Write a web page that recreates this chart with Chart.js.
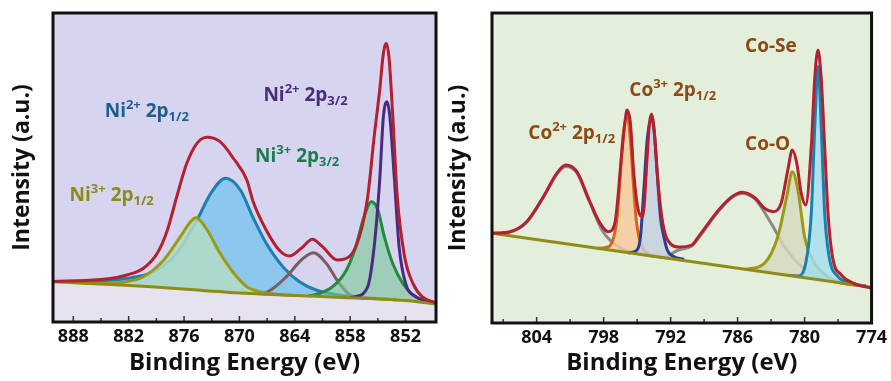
<!DOCTYPE html>
<html>
<head>
<meta charset="utf-8">
<script src="https://cdn.jsdelivr.net/npm/chart.js@4.4.0/dist/chart.umd.min.js"></script>
<style>
  html, body { margin: 0; padding: 0; background: #fff; }
  #wrap { position: relative; width: 891px; height: 381px; }
  .panel { position: absolute; top: 0; height: 381px; }
</style>
</head>
<body>
<div id="wrap">
  <div class="panel" style="left:0;width:445px"><canvas id="ni" width="445" height="381"></canvas></div>
  <div class="panel" style="left:445px;width:446px"><canvas id="co" width="446" height="381"></canvas></div>
</div>
<script>
// ---- Ni 2p (left panel) ----
const niTicks = [888, 882, 876, 870, 864, 858, 852];
const niMinor = [885, 879, 873, 867, 861, 855];

const niBaseE = [890.2, 880, 870, 860, 852, 848.7];
const niBaseI = [40.5, 35.5, 29, 25, 21.5, 18];

const niEnvE = [890.2, 884.7, 882.2, 880.4, 878.9, 877.8, 876.8, 875.7, 874.6, 873.5, 872.1, 870.6, 869.2, 868.5, 867.1, 865.7, 864.6, 863.3, 862.1, 861.0, 859.4, 858.1, 857.0, 856.1, 855.4, 854.8, 854.4, 854.1, 853.8, 853.4, 852.9, 852.1, 851.2, 850.2, 848.7];
const niEnvI = [40.5, 42.7, 47, 53.7, 68.7, 92, 125, 158.7, 178.7, 184.7, 180.3, 163, 142, 120, 92, 72, 66, 73.7, 82.7, 75.3, 62, 65.3, 85.3, 125.3, 185.3, 232, 268.7, 278.7, 265.3, 208.7, 125.3, 65.3, 38.7, 25.3, 19];

const ni2p12E = [890.2, 884.7, 881.1, 879.3, 876.8, 874.6, 873.1, 871.5, 869.9, 868.5, 867.1, 865.3, 863.5, 861.7, 859.2, 856, 853];
const ni2p12I = [40.5, 41.5, 45.3, 50.3, 68.7, 102, 128.7, 143.7, 132, 104, 78.7, 55.3, 40.3, 32, 27, 24, 22.3];

const ni3p12E = [890.2, 885, 882.9, 880.4, 878.2, 876.4, 875.3, 874.7, 873.5, 872.1, 870.6, 869.2, 867.8, 866, 864];
const ni3p12I = [40.5, 38.3, 39.5, 45.3, 62, 85.3, 100.3, 104.3, 92, 68.7, 48.7, 35.3, 30.3, 27.8, 26.6];

const niSatE = [868, 867.1, 864.9, 863.3, 862.0, 860.6, 859.2, 857.7, 856];
const niSatI = [28.4, 29.5, 45.3, 62, 69.3, 58.7, 38.7, 25.3, 23.5];

const ni3p32E = [862.5, 861.7, 859.9, 858.4, 857.4, 856.5, 855.7, 855.0, 854.3, 853.4, 852.3, 850.9, 848.7];
const ni3p32I = [26, 27.5, 35.3, 52, 75.3, 105.3, 120.3, 112, 85.3, 58.7, 38.7, 25.3, 19.5];

const ni2p32E = [858, 857.4, 856.1, 855.4, 854.8, 854.4, 854.0, 853.7, 853.2, 852.7, 852.0, 850.9, 849.5];
const ni2p32I = [24.4, 25.5, 35.3, 75.3, 142, 205.3, 220.3, 205.3, 142, 75.3, 38.7, 25.3, 20.5];

// ---- Co 2p (right panel) ----
const coTicks = [804, 798, 792, 786, 780, 774];
const coMinor = [807, 801, 795, 789, 783, 777];

const coBaseE = [808, 791, 774];
const coBaseI = [89.7, 62.7, 35.7];

const coEnvE = [808, 806.4, 804.9, 803.4, 802.2, 801.4, 800.4, 799.3, 798.4, 797.6, 797.0, 796.4, 796.1, 795.9, 795.6, 795.3, 794.9, 794.5, 794.1, 793.9, 793.7, 793.5, 793.2, 792.7, 792.0, 791.3, 790.1, 789.5, 787.7, 786.5, 785.6, 784.4, 783.6, 782.8, 782.1, 781.5, 781.1, 780.7, 780.3, 779.9, 779.4, 779.1, 778.8, 778.5, 778.2, 777.9, 777.5, 776.7, 775.6, 774];
const coEnvI = [89.7, 91.3, 101.3, 126.3, 149.7, 158, 151.3, 123, 101.3, 91.3, 99.7, 166.3, 199.7, 213, 199.7, 149.7, 113, 106.3, 166.3, 199.7, 209, 196.3, 149.7, 99.7, 79, 76, 78, 86.3, 113, 126.3, 130.7, 124.7, 114.7, 111.3, 119.7, 153, 173, 159.7, 129.7, 118, 176.3, 243, 273, 243, 176.3, 109.7, 66.3, 48, 39.7, 34.7];

const co2p12E = [798.6, 797.8, 797.2, 796.8, 796.6, 796.3, 795.9, 795.6, 795.3, 795.1, 794.8, 794.4, 793.8, 793.2];
const co2p12I = [74.8, 75.5, 82, 105, 133, 183, 208, 183, 133, 105, 84, 73, 68, 66.5];

const co3p12E = [795.8, 795.0, 794.7, 794.4, 794.1, 793.7, 793.4, 793.1, 792.9, 792.6, 792.3, 791.7, 790.8];
const co3p12I = [70, 73, 86.3, 133, 183, 204.7, 183, 133, 105, 86, 73, 66.3, 63.5];

const coSat1E = [808, 806.4, 804.9, 803.4, 802.2, 801.4, 800.4, 799.3, 798.1, 796.9, 795.7, 794, 792];
const coSat1I = [89.7, 91, 100.5, 125.5, 148.5, 156.5, 150, 122, 92, 78, 71.3, 67.8, 64.8];

const coSat2E = [792.5, 791.3, 790.1, 789.5, 787.7, 786.5, 785.6, 784.4, 783.0, 781.8, 780.6, 779.4, 777.9, 776, 774.5];
const coSat2I = [65.5, 73, 77, 85, 112, 125.5, 129.5, 123.5, 99.7, 76.3, 59.7, 49.7, 43, 39, 37];

const coOE = [785.3, 783.6, 782.4, 781.6, 781.1, 780.6, 780.0, 779.1, 777.9, 776.7, 775.5];
const coOI = [53.5, 59.7, 86.3, 126.3, 151.3, 133, 86.3, 59.7, 46.3, 40, 38];

const coSeE = [781.5, 780.6, 779.9, 779.4, 779.1, 778.8, 778.5, 778.2, 777.8, 777.0, 775.9, 774.5];
const coSeI = [47.8, 47, 59.7, 109.7, 193, 256.3, 193, 109.7, 66.3, 46.3, 40, 37];

// peak labels: text pieces ('' normal, 'sup', 'sub') and anchor (eV, intensity)
const niLabels = [
  { parts: [['Ni', ''], ['2+', 'sup'], [' 2p', ''], ['1/2', 'sub']], at: [884.6, 205], color: '#1c5f8c' },
  { parts: [['Ni', ''], ['3+', 'sup'], [' 2p', ''], ['1/2', 'sub']], at: [888.4, 121], color: '#8d8b16' },
  { parts: [['Ni', ''], ['2+', 'sup'], [' 2p', ''], ['3/2', 'sub']], at: [867.4, 221], color: '#4a2c7c' },
  { parts: [['Ni', ''], ['3+', 'sup'], [' 2p', ''], ['3/2', 'sub']], at: [868.3, 160], color: '#1e7a4e' },
];
const coLabels = [
  { parts: [['Co', ''], ['2+', 'sup'], [' 2p', ''], ['1/2', 'sub']], at: [804.75, 184], color: '#8b4a16' },
  { parts: [['Co', ''], ['3+', 'sup'], [' 2p', ''], ['1/2', 'sub']], at: [795.7, 227], color: '#8b4a16' },
  { parts: [['Co-Se', '']], at: [785.33, 271], color: '#8b4a16' },
  { parts: [['Co-O', '']], at: [785.33, 173], color: '#8b4a16' },
];

const FONT = '"Open Sans", "DejaVu Sans", sans-serif';

function pts(es, is) {
  return es.map((e, i) => ({ x: e, y: is[i] }));
}

function curve(es, is, color, fill, order) {
  return {
    data: pts(es, is),
    borderColor: color,
    backgroundColor: fill || 'transparent',
    borderWidth: 3,
    pointRadius: 0,
    cubicInterpolationMode: 'monotone',
    fill: fill ? 0 : false,
    order: order,
  };
}

function drawRich(ctx, x, y, parts, color) {
  ctx.fillStyle = color;
  ctx.textAlign = 'left';
  ctx.textBaseline = 'alphabetic';
  parts.forEach(([t, kind]) => {
    let size = 19, dy = 0;
    if (kind === 'sup') { size = 13; dy = -8; }
    if (kind === 'sub') { size = 13; dy = 4; }
    ctx.font = `bold ${size}px ${FONT}`;
    ctx.fillText(t, x, y + dy);
    x += ctx.measureText(t).width;
  });
}

// background, labels, inward ticks and the heavy frame
function panelPlugin(p) {
  return {
    id: 'panel',
    beforeDraw(chart) {
      const { ctx, chartArea: a } = chart;
      ctx.save();
      ctx.fillStyle = p.bg;
      ctx.fillRect(a.left, a.top, a.right - a.left, a.bottom - a.top);
      ctx.restore();
    },
    afterDatasetsDraw(chart) {
      const { ctx, scales } = chart;
      ctx.save();
      p.labels.forEach(l => {
        drawRich(ctx, scales.x.getPixelForValue(l.at[0]), scales.y.getPixelForValue(l.at[1]), l.parts, l.color);
      });
      ctx.restore();
    },
    afterDraw(chart) {
      const { ctx, chartArea: a, scales } = chart;
      ctx.save();
      ctx.strokeStyle = '#333';
      ctx.lineWidth = 1.5;
      const tick = (v, len) => {
        const px = scales.x.getPixelForValue(v);
        ctx.beginPath();
        ctx.moveTo(px, a.bottom);
        ctx.lineTo(px, a.bottom - len);
        ctx.stroke();
      };
      p.major.forEach(v => tick(v, 6));
      p.minor.forEach(v => tick(v, 4));
      ctx.strokeStyle = '#111';
      ctx.lineWidth = 3;
      ctx.strokeRect(a.left, a.top, a.right - a.left, a.bottom - a.top);
      ctx.restore();
    },
  };
}

function makePanel(id, p) {
  return new Chart(document.getElementById(id), {
    type: 'line',
    data: { datasets: p.datasets },
    options: {
      responsive: false,
      animation: false,
      layout: { padding: { top: 13, right: p.padRight, left: 0, bottom: 0 } },
      plugins: { legend: { display: false }, tooltip: { enabled: false } },
      scales: {
        x: {
          type: 'linear',
          reverse: true,
          min: p.xmin,
          max: p.xmax,
          afterBuildTicks: s => { s.ticks = p.major.map(v => ({ value: v })); },
          afterFit: s => { s.height = p.xHeight; },
          grid: { display: false, drawTicks: false },
          border: { display: false },
          ticks: { color: '#111', padding: 4, maxRotation: 0, font: { family: FONT, size: 18, weight: 'bold' } },
          title: {
            display: true,
            text: 'Binding Energy (eV)',
            color: '#111',
            padding: { top: 0, bottom: 3 },
            font: { family: FONT, size: 24, weight: 'bold', lineHeight: 1.2 },
          },
        },
        y: {
          type: 'linear',
          min: 0,
          max: p.ymax,
          afterFit: s => { s.width = p.yWidth; },
          grid: { display: false, drawTicks: false },
          border: { display: false },
          ticks: { display: false },
          title: {
            display: true,
            text: 'Intensity (a.u.)',
            color: '#111',
            padding: { top: p.yTitlePad, bottom: 0 },
            font: { family: FONT, size: 23, weight: 'bold', lineHeight: 1.2 },
          },
        },
      },
    },
    plugins: [panelPlugin(p)],
  });
}

// Ni 2p
const niBaseArea = {
  data: pts(niBaseE, niBaseI), borderWidth: 0, pointRadius: 0,
  backgroundColor: '#e6e2ef', fill: 'start', order: 20,
};
makePanel('ni', {
  xmin: 848.7, xmax: 890.2, ymax: 309,
  yWidth: 53, xHeight: 59, padRight: 9, yTitlePad: 9,
  bg: '#d6d4ef',
  major: niTicks, minor: niMinor, labels: niLabels,
  datasets: [
    curve(niBaseE, niBaseI, '#8e8c16', null, 2),
    niBaseArea,
    curve(ni2p12E, ni2p12I, '#1d7fae', 'rgba(135,198,238,0.95)', 9),
    curve(niSatE, niSatI, '#7b5c62', null, 8),
    curve(ni3p12E, ni3p12I, '#9c9a14', 'rgba(178,220,196,0.85)', 7),
    curve(ni3p32E, ni3p32I, '#238c3c', 'rgba(120,200,150,0.6)', 6),
    curve(ni2p32E, ni2p32I, '#4d2a82', null, 5),
    curve(niEnvE, niEnvI, '#b3202f', null, 1),
  ],
});

// Co 2p
makePanel('co', {
  xmin: 774, xmax: 808, ymax: 310,
  yWidth: 47, xHeight: 58, padRight: 17, yTitlePad: 0,
  bg: '#e3eedb',
  major: coTicks, minor: coMinor, labels: coLabels,
  datasets: [
    curve(coBaseE, coBaseI, '#8e8c16', null, 2),
    curve(coSat1E, coSat1I, '#8a8a8a', null, 12),
    curve(coSat2E, coSat2I, '#8a8a8a', null, 11),
    curve(coOE, coOI, '#9c9a14', 'rgba(214,216,190,0.8)', 8),
    curve(coSeE, coSeI, '#1d7fae', 'rgba(160,222,240,0.8)', 7),
    curve(co2p12E, co2p12I, '#d9651a', 'rgba(247,200,152,0.8)', 6),
    curve(co3p12E, co3p12I, '#2e3d8e', 'rgba(196,206,224,0.8)', 5),
    curve(coEnvE, coEnvI, '#b3202f', null, 1),
  ],
});
</script>
</body>
</html>
